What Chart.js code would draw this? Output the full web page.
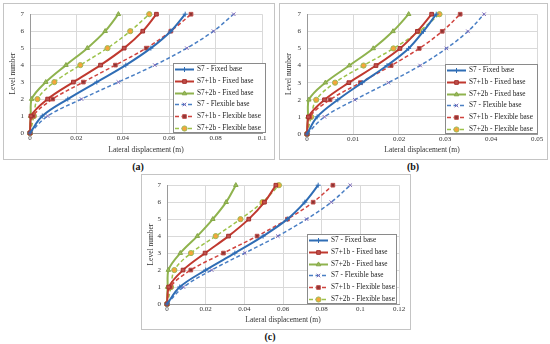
<!DOCTYPE html>
<html>
<head>
<meta charset="utf-8">
<script src="https://cdn.jsdelivr.net/npm/chart.js@4.4.0/dist/chart.umd.min.js"></script>
<style>
    body { margin: 0; width: 550px; height: 344px; background: #fff; position: relative; overflow: hidden; font-family: 'Liberation Serif', serif; }
    .box { position: absolute; border: 1px solid #c4c4c4; box-sizing: border-box; }
    .box canvas { position: absolute; left: 0; top: 0; }
    .cap { position: absolute; font-weight: bold; font-size: 10px; color: #111; transform: translate(-50%, -50%); }
</style>
</head>
<body>
<div class="box" style="left:3px;top:3px;width:272px;height:157px;"><canvas id="chartA"></canvas></div>
<div class="box" style="left:279px;top:3px;width:269px;height:157px;"><canvas id="chartB"></canvas></div>
<div class="box" style="left:141px;top:174px;width:270px;height:156px;"><canvas id="chartC"></canvas></div>
<div class="cap" style="left:138px;top:166px;">(a)</div>
<div class="cap" style="left:413px;top:166px;">(b)</div>
<div class="cap" style="left:270px;top:336px;">(c)</div>

<script>
// storey levels (y axis) and series names
const levels = [0, 1, 2, 3, 4, 5, 6, 7];
const seriesNames = [
    'S7 - Fixed base',
    'S7+1b - Fixed base',
    'S7+2b - Fixed base',
    'S7 - Flexible base',
    'S7+1b - Flexible base',
    'S7+2b - Flexible base'
];

// (a) lateral displacement (m)
const aS7Fixed = [0, 0.0053, 0.0163, 0.0288, 0.0413, 0.0521, 0.0607, 0.0669];
const aS71bFixed = [0, 0.0004, 0.0076, 0.0187, 0.0304, 0.0406, 0.0486, 0.0545];
const aS72bFixed = [0, 0.0003, 0.0007, 0.0068, 0.0155, 0.0247, 0.0324, 0.0381];
const aS7Flex = [0, 0.0076, 0.0222, 0.0381, 0.0538, 0.0676, 0.0791, 0.0878];
const aS71bFlex = [0, 0.0014, 0.0098, 0.0230, 0.0368, 0.0501, 0.0607, 0.0694];
const aS72bFlex = [0, 0.0017, 0.0032, 0.0105, 0.0217, 0.0334, 0.0432, 0.0514];
const aTicks = ['0', '0.02', '0.04', '0.06', '0.08', '0.1'];

// (b)
const bS7Fixed = [0, 0.0022, 0.0067, 0.0120, 0.0174, 0.0221, 0.0253, 0.0281];
const bS71bFixed = [0, 0.0003, 0.0038, 0.0091, 0.0150, 0.0202, 0.0240, 0.0271];
const bS72bFixed = [0, 0.0002, 0.0004, 0.0040, 0.0092, 0.0144, 0.0187, 0.0221];
const bS7Flex = [0, 0.0038, 0.0104, 0.0177, 0.0246, 0.0303, 0.0350, 0.0385];
const bS71bFlex = [0, 0.0006, 0.0050, 0.0116, 0.0183, 0.0244, 0.0294, 0.0333];
const bS72bFlex = [0, 0.0009, 0.0020, 0.0061, 0.0123, 0.0188, 0.0244, 0.0288];
const bTicks = ['0', '0.01', '0.02', '0.03', '0.04', '0.05'];

// (c)
const cS7Fixed = [0, 0.0066, 0.0200, 0.0351, 0.0497, 0.0623, 0.0713, 0.0782];
const cS71bFixed = [0, 0.0009, 0.0083, 0.0197, 0.0318, 0.0423, 0.0504, 0.0563];
const cS72bFixed = [0, 0.0003, 0.0007, 0.0069, 0.0157, 0.0237, 0.0306, 0.0356];
const cS7Flex = [0, 0.0085, 0.0231, 0.0402, 0.0573, 0.0722, 0.0850, 0.0948];
const cS71bFlex = [0, 0.0017, 0.0123, 0.0292, 0.0466, 0.0623, 0.0756, 0.0858];
const cS72bFlex = [0, 0.0021, 0.0038, 0.0124, 0.0252, 0.0380, 0.0494, 0.0579];
const cTicks = ['0', '0.02', '0.04', '0.06', '0.08', '0.1', '0.12'];

// look of each series (same order as seriesNames)
const seriesStyles = [
    { color: '#2f6db5', dash: [], width: 2, point: 'cross', fill: '#2f6db5', stroke: '#2f6db5', r: 2.5 },
    { color: '#c0392f', dash: [], width: 2, point: 'rect', fill: '#c0504d', stroke: '#a5302b', r: 2.6 },
    { color: '#8fb34e', dash: [], width: 2, point: 'triangle', fill: '#9bbb59', stroke: '#86a84a', r: 2.6 },
    { color: '#4a7fc4', dash: [4, 2.5], width: 1.5, point: 'crossRot', fill: '#7a68b8', stroke: '#7a68b8', r: 2.5 },
    { color: '#d0433e', dash: [4, 2.5], width: 1.5, point: 'rect', fill: '#8e3432', stroke: '#c0504d', r: 2.6 },
    { color: '#9cc24a', dash: [4, 2.5], width: 1.5, point: 'circle', fill: '#f4a53a', stroke: '#9bbb59', r: 2.6 }
];

const serif = 'Liberation Serif';

// legend drawn inside the plot area, like the Excel original
const insideLegend = {
    id: 'insideLegend',
    afterDraw(chart, args, opts) {
        const ctx = chart.ctx;
        const area = chart.chartArea;
        const left = Math.round(area.right + opts.dx - opts.width);
        const top = Math.round(area.bottom + opts.dy - opts.height);
        ctx.save();
        ctx.fillStyle = '#fff';
        ctx.fillRect(left, top, opts.width, opts.height);
        ctx.strokeStyle = '#8a8a8a';
        ctx.lineWidth = 1;
        ctx.strokeRect(left + 0.5, top + 0.5, opts.width - 1, opts.height - 1);
        chart.data.datasets.forEach((ds, i) => {
            const y = Math.round(top + opts.first + i * opts.row) + 0.5;
            const x0 = left + opts.sx;
            ctx.setLineDash(ds.borderDash);
            ctx.strokeStyle = ds.borderColor;
            ctx.lineWidth = ds.borderWidth;
            ctx.beginPath();
            ctx.moveTo(x0, y);
            ctx.lineTo(x0 + opts.len, y);
            ctx.stroke();
            ctx.setLineDash([]);
            ctx.fillStyle = ds.pointBackgroundColor;
            ctx.strokeStyle = ds.pointBorderColor;
            ctx.lineWidth = 1;
            Chart.helpers.drawPoint(ctx, { pointStyle: ds.pointStyle, radius: ds.pointRadius, borderWidth: 1, rotation: 0 }, x0 + opts.len / 2, y);
            ctx.fillStyle = '#262626';
            ctx.font = opts.fontSize + 'px ' + serif;
            ctx.textBaseline = 'middle';
            ctx.textAlign = 'left';
            ctx.fillText(ds.label, x0 + opts.len + opts.gap, y);
        });
        ctx.restore();
    }
};

function buildDatasets(seriesList) {
    return seriesList.map((xs, i) => {
        const st = seriesStyles[i];
        return {
            label: seriesNames[i],
            data: xs.map((x, k) => ({ x: x, y: levels[k] })),
            borderColor: st.color,
            borderWidth: st.width,
            borderDash: st.dash,
            pointStyle: st.point,
            pointRadius: st.r,
            pointBackgroundColor: st.fill,
            pointBorderColor: st.stroke,
            pointBorderWidth: 1,
            tension: 0.35,
            clip: false,
            fill: false
        };
    });
}

function makeChart(id, seriesList, xMax, xStep, tickLabels, geo) {
    const canvas = document.getElementById(id);
    canvas.width = geo.w;
    canvas.height = geo.h;
    canvas.style.width = geo.w + 'px';
    canvas.style.height = geo.h + 'px';
    return new Chart(canvas.getContext('2d'), {
        type: 'line',
        data: { datasets: buildDatasets(seriesList) },
        plugins: [insideLegend],
        options: {
            responsive: false,
            animation: false,
            devicePixelRatio: 1,
            layout: { padding: { left: 0, top: geo.padTop, right: geo.padRight, bottom: 0 } },
            plugins: {
                legend: { display: false },
                tooltip: { enabled: false },
                insideLegend: geo.legend
            },
            scales: {
                x: {
                    type: 'linear',
                    min: 0,
                    max: xMax,
                    ticks: {
                        stepSize: xStep,
                        padding: 1,
                        color: '#333',
                        font: { family: serif, size: 7 },
                        callback: v => tickLabels[Math.round(v / xStep)]
                    },
                    grid: { color: '#d9d9d9', drawTicks: false },
                    border: { color: '#9a9a9a' },
                    title: {
                        display: true,
                        text: 'Lateral displacement (m)',
                        color: '#333',
                        font: { family: serif, size: 7.5 },
                        padding: { top: 0, bottom: geo.xTitlePad }
                    },
                    afterFit: s => { s.height = geo.xh; }
                },
                y: {
                    type: 'linear',
                    min: 0,
                    max: 7,
                    ticks: {
                        stepSize: 1,
                        padding: 6,
                        color: '#333',
                        font: { family: serif, size: 7 }
                    },
                    grid: { color: '#d9d9d9', drawTicks: false },
                    border: { color: '#9a9a9a' },
                    title: {
                        display: true,
                        text: 'Level number',
                        color: '#333',
                        font: { family: serif, size: 7.5 },
                        padding: { top: geo.yTitlePad, bottom: 0 }
                    },
                    afterFit: s => { s.width = geo.yw; }
                }
            }
        }
    });
}

makeChart('chartA', [aS7Fixed, aS71bFixed, aS72bFixed, aS7Flex, aS71bFlex, aS72bFlex], 0.1, 0.02, aTicks, {
    w: 270, h: 155, padTop: 7, padRight: 12, yw: 26, xh: 26, xTitlePad: 4, yTitlePad: 5,
    legend: { width: 93, height: 70, dx: 4, dy: 0, first: 6, row: 11.8, sx: 2, len: 19, gap: 3, fontSize: 7.3 }
});
makeChart('chartB', [bS7Fixed, bS71bFixed, bS72bFixed, bS7Flex, bS71bFlex, bS72bFlex], 0.05, 0.01, bTicks, {
    w: 267, h: 155, padTop: 7, padRight: 10, yw: 27, xh: 25, xTitlePad: 4, yTitlePad: 5,
    legend: { width: 93, height: 70, dx: 1, dy: 0, first: 6, row: 11.8, sx: 2, len: 19, gap: 3, fontSize: 7.3 }
});
makeChart('chartC', [cS7Fixed, cS71bFixed, cS72bFixed, cS7Flex, cS71bFlex, cS72bFlex], 0.12, 0.02, cTicks, {
    w: 268, h: 154, padTop: 6, padRight: 11, yw: 25, xh: 25, xTitlePad: 4, yTitlePad: 5,
    legend: { width: 90, height: 70, dx: -2, dy: 0, first: 6, row: 11.8, sx: 2, len: 19, gap: 3, fontSize: 7.3 }
});
</script>
</body>
</html>
